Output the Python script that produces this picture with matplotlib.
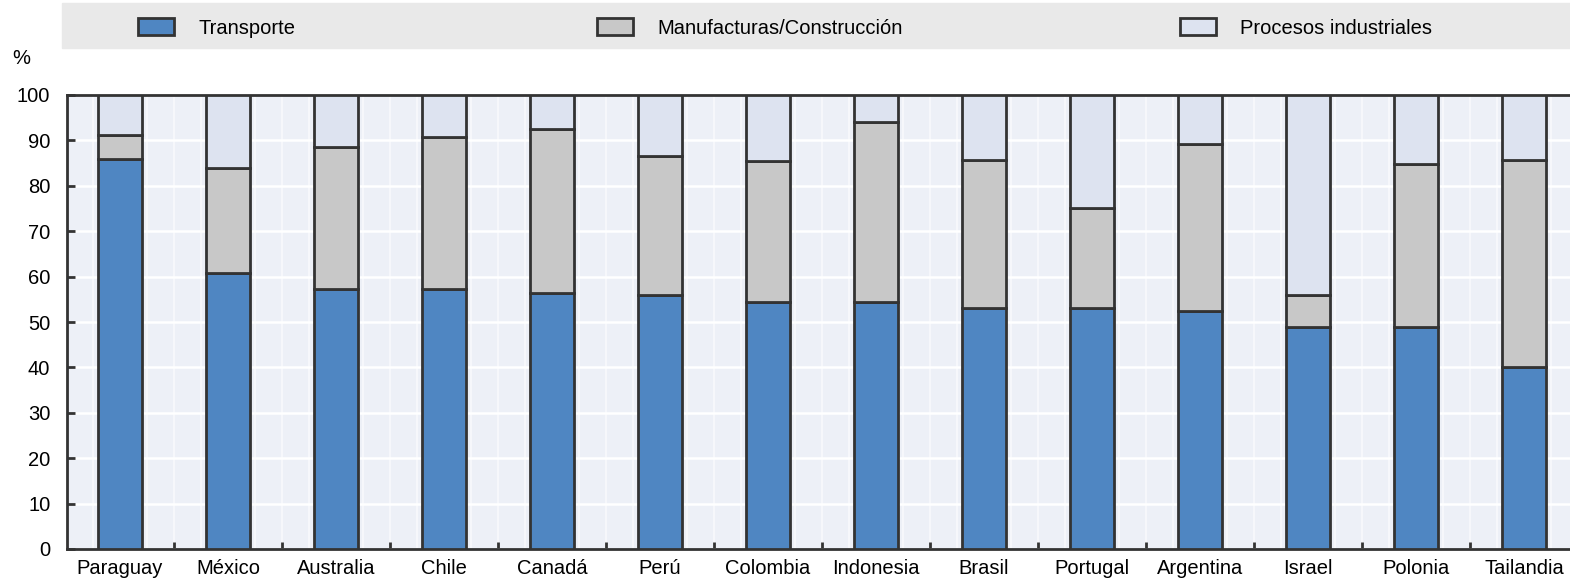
import numpy as np
import matplotlib
matplotlib.use("Agg")
from matplotlib import pyplot as plt
from matplotlib.patches import Patch

# Datos (%): participación de cada sector
paises = ["Paraguay", "México", "Australia", "Chile", "Canadá", "Perú", "Colombia",
          "Indonesia", "Brasil", "Portugal", "Argentina", "Israel", "Polonia", "Tailandia"]
transporte = [86, 60.7, 57.2, 57.2, 56.3, 56, 54.5, 54.3, 53, 53, 52.5, 48.8, 48.8, 40]
manufacturas = [5.2, 23.3, 31.4, 33.6, 36.2, 30.6, 31, 39.7, 32.7, 22.2, 36.7, 7.2, 36, 45.7]
procesos = [round(100 - t - m, 1) for t, m in zip(transporte, manufacturas)]

c_trans = "#4f86c2"
c_manuf = "#c8c8c8"
c_proc = "#dde3f0"
edge = "#333333"

plt.rcParams['font.family'] = ['Liberation Sans Narrow', 'Liberation Sans', 'DejaVu Sans']

fig = plt.figure(figsize=(15.7, 5.85), dpi=100)
ax = fig.add_axes([67 / 1570, 36 / 585, 1503 / 1570, 454 / 585])
ax.set_facecolor("#edf0f7")

x = np.arange(len(paises))
w = 0.41
ax.bar(x, transporte, w, color=c_trans, edgecolor=edge, linewidth=2, zorder=3)
ax.bar(x, manufacturas, w, bottom=transporte, color=c_manuf, edgecolor=edge, linewidth=2, zorder=3)
base2 = [t + m for t, m in zip(transporte, manufacturas)]
ax.bar(x, procesos, w, bottom=base2, color=c_proc, edgecolor=edge, linewidth=2, zorder=3)

ax.set_xlim(-0.491, -0.491 + 1503 / 108)
ax.set_ylim(0, 100)
ax.set_yticks(range(0, 101, 10))
ax.set_xticks(x)
ax.set_xticklabels(paises)
ax.set_xticks(x[:-1] + 0.5, minor=True)
ax.tick_params(axis="x", which="major", length=0, pad=7, labelsize=14.5)
ax.tick_params(axis="x", which="minor", direction="in", length=5, width=2, color=edge)
ax.tick_params(axis="y", direction="in", length=6, width=2, color=edge, labelsize=14.5, pad=12)
ax.grid(axis="y", color="white", linewidth=1.8, zorder=0)
for xv in np.arange(-0.25, 13.5, 0.25):
    ax.axvline(xv, color="white", linewidth=1.2, alpha=0.6, zorder=0)
for s in ["left", "bottom", "top"]:
    ax.spines[s].set_linewidth(2)
    ax.spines[s].set_color(edge)
ax.spines["right"].set_visible(False)

# Banda de la leyenda
band = plt.Rectangle((62 / 1570, 1 - 48 / 585), 1 - 62 / 1570, 45 / 585,
                     transform=fig.transFigure, color="#e9e9e9", zorder=0)
fig.patches.append(band)
handles = [Patch(facecolor=c_trans, edgecolor=edge, linewidth=2),
           Patch(facecolor=c_manuf, edgecolor=edge, linewidth=2),
           Patch(facecolor=c_proc, edgecolor=edge, linewidth=2)]
labels = ["Transporte", "Manufacturas/Construcción", "Procesos industriales"]
xpos = [138, 597, 1180]
for h, l, xp in zip(handles, labels, xpos):
    fig.legend([h], [l], loc="center left", bbox_to_anchor=(xp / 1570, 1 - 28 / 585),
               frameon=False, fontsize=14.5, handlelength=1.8, handleheight=0.9,
               handletextpad=1.2, borderpad=0, borderaxespad=0)

fig.text(12 / 1570, 1 - 58 / 585, "%", fontsize=14.5, va="center", ha="left")

fig.savefig("out.png", dpi=100)
